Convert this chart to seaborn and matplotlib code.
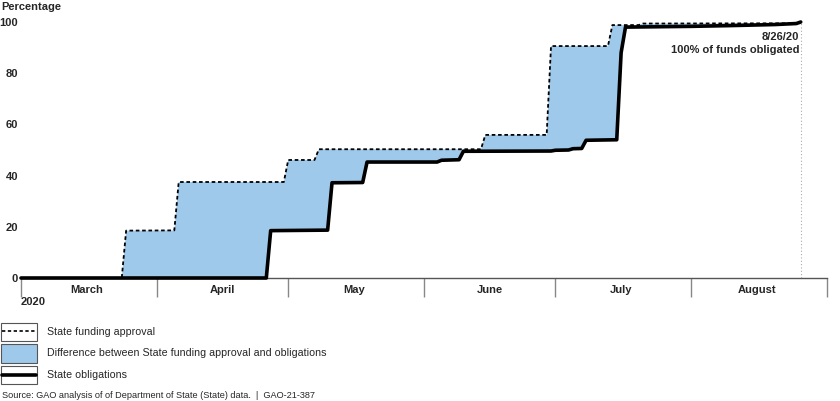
import matplotlib
matplotlib.use("Agg")
import matplotlib.pyplot as plt
import matplotlib.dates as mdates
from matplotlib.ticker import FixedFormatter, NullFormatter
from matplotlib.patches import Rectangle
from matplotlib.lines import Line2D
import pandas as pd
import seaborn as sns

# cumulative share of funds
approval_dates = ["2020-03-01", "2020-03-24", "2020-03-25", "2020-04-05", "2020-04-06",
                  "2020-04-30", "2020-05-01", "2020-05-07", "2020-05-08", "2020-06-14",
                  "2020-06-15", "2020-06-29", "2020-06-30", "2020-07-13", "2020-07-14",
                  "2020-07-20", "2020-07-21", "2020-08-25", "2020-08-26"]
approval_pct = [0, 0, 18.5, 18.6, 37.5, 37.5, 46.1, 46.1, 50.3, 50.3,
                55.9, 55.9, 90.6, 90.6, 98.8, 98.8, 99.4, 99.5, 100]

obligation_dates = ["2020-03-01", "2020-04-26", "2020-04-27", "2020-05-10", "2020-05-11",
                    "2020-05-18", "2020-05-19", "2020-06-04", "2020-06-05", "2020-06-09",
                    "2020-06-10", "2020-06-30", "2020-07-01", "2020-07-04", "2020-07-05",
                    "2020-07-07", "2020-07-08", "2020-07-15", "2020-07-16", "2020-07-17",
                    "2020-08-01", "2020-08-10", "2020-08-20", "2020-08-25", "2020-08-26"]
obligation_pct = [0, 0, 18.5, 18.7, 37.2, 37.3, 45.3, 45.3, 46.0, 46.2,
                  49.5, 49.6, 49.9, 50.0, 50.5, 50.6, 53.8, 54.0, 88.0, 98.0,
                  98.3, 98.6, 99.0, 99.4, 100]

month_labels = ["March", "April", "May", "June", "July", "August"]
y_ticks = [0, 20, 40, 60, 80, 100]
done_date = "2020-08-26"

approval = pd.DataFrame({"date": pd.to_datetime(approval_dates), "pct": approval_pct})
obligations = pd.DataFrame({"date": pd.to_datetime(obligation_dates), "pct": obligation_pct})

sns.set_style("white")
plt.rcParams["font.family"] = ["Liberation Sans", "DejaVu Sans"]
plt.rcParams["font.weight"] = "bold"

W, H = 840, 401
fig = plt.figure(figsize=(W / 100, H / 100), dpi=100)
ax = fig.add_axes([21 / W, 1 - 278 / H, (827 - 21) / W, (278 - 22) / H])

blue = "#9fc9ea"

# gap between approval and obligations
gap_x = mdates.date2num(list(approval["date"]) + list(obligations["date"][::-1]))
gap_y = list(approval["pct"]) + list(obligations["pct"][::-1])
ax.fill(gap_x, gap_y, color=blue, lw=0, zorder=1)

sns.lineplot(data=approval, x="date", y="pct", ax=ax, color="black", lw=1.3,
             linestyle=(0, (2, 1.5)), zorder=3, clip_on=False)
sns.lineplot(data=obligations, x="date", y="pct", ax=ax, color="black", lw=2.6,
             zorder=4, clip_on=False)

ax.axvline(pd.Timestamp(done_date), color="#aaaaaa", lw=0.8, ls=(0, (1, 2)), zorder=0)
ax.annotate("8/26/20\n100% of funds obligated", xy=(pd.Timestamp(done_date), 100),
            xytext=(-1, -7), textcoords="offset points", ha="right", va="top",
            multialignment="right", fontsize=8, linespacing=1.35)

ax.set_xlim(pd.Timestamp("2020-03-01"), pd.Timestamp("2020-09-01"))
ax.set_ylim(0, 100)
ax.set_yticks(y_ticks)
ax.xaxis.set_major_locator(mdates.MonthLocator())
ax.xaxis.set_major_formatter(NullFormatter())
ax.xaxis.set_minor_locator(mdates.MonthLocator(bymonthday=16))
ax.xaxis.set_minor_formatter(FixedFormatter(month_labels))
ax.tick_params(axis="x", which="both", bottom=True)
ax.tick_params(axis="x", which="major", length=14, width=1, color="#888888", direction="out")
ax.tick_params(axis="x", which="minor", length=0, pad=5, labelsize=8)
ax.tick_params(axis="y", length=0, pad=2, labelsize=8)
ax.set_xlabel("")
ax.set_ylabel("")
sns.despine(ax=ax, left=True)
ax.spines["bottom"].set_color("#555555")
ax.spines["bottom"].set_linewidth(1)

ax.text(0, -0.095, "2020", transform=ax.transAxes, ha="left", va="center", fontsize=8)
fig.text(1 / W, 1 - 2 / H, "Percentage", ha="left", va="top", fontsize=8)

# legend drawn by hand, like the GAO key
def fx(px):
    return px / W

def fy(py):
    return 1 - py / H

boxes = [(323, 341, "white"), (344, 363, blue), (366, 384, "white")]
for top, bot, fc in boxes:
    fig.patches.append(Rectangle((fx(1), fy(bot)), fx(36), (bot - top) / H, facecolor=fc,
                                 edgecolor="#555555", lw=0.8, transform=fig.transFigure))
fig.lines.append(Line2D([fx(2), fx(36)], [fy(331), fy(331)], color="black", lw=1.2,
                        ls=(0, (2, 1.5)), transform=fig.transFigure))
fig.lines.append(Line2D([fx(2), fx(36)], [fy(375), fy(375)], color="black", lw=2.6,
                        transform=fig.transFigure))
legend_labels = ["State funding approval",
                 "Difference between State funding approval and obligations",
                 "State obligations"]
for yy, lbl in zip([332, 353, 375], legend_labels):
    fig.text(fx(47), fy(yy), lbl, ha="left", va="center", fontsize=7.7, fontweight="normal")

fig.text(fx(2), fy(395), "Source: GAO analysis of of Department of State (State) data.  |  GAO-21-387",
         ha="left", va="center", fontsize=6.6, fontweight="normal")

fig.savefig("out.png", dpi=100)
